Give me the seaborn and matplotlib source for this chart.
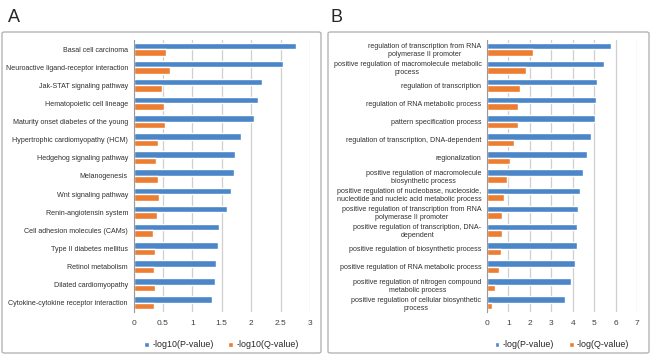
import numpy as np
import pandas as pd
import matplotlib
matplotlib.use("Agg")
import matplotlib.pyplot as plt
from matplotlib.patches import FancyBboxPatch
import seaborn as sns

# ---------------- data ----------------
kegg_terms = [
    "Basal cell carcinoma",
    "Neuroactive ligand-receptor interaction",
    "Jak-STAT signaling pathway",
    "Hematopoietic cell lineage",
    "Maturity onset diabetes of the young",
    "Hypertrophic cardiomyopathy (HCM)",
    "Hedgehog signaling pathway",
    "Melanogenesis",
    "Wnt signaling pathway",
    "Renin-angiotensin system",
    "Cell adhesion molecules (CAMs)",
    "Type II diabetes mellitus",
    "Retinol metabolism",
    "Dilated cardiomyopathy",
    "Cytokine-cytokine receptor interaction",
]
kegg_p = [2.77, 2.54, 2.18, 2.12, 2.05, 1.83, 1.73, 1.71, 1.66, 1.59, 1.45, 1.44, 1.40, 1.38, 1.33]
kegg_q = [0.56, 0.62, 0.48, 0.52, 0.54, 0.41, 0.39, 0.42, 0.43, 0.40, 0.33, 0.36, 0.35, 0.36, 0.35]

go_terms = [
    "regulation of transcription from RNA\npolymerase II promoter",
    "positive regulation of macromolecule metabolic\nprocess",
    "regulation of transcription",
    "regulation of RNA metabolic process",
    "pattern specification process",
    "regulation of transcription, DNA-dependent",
    "regionalization",
    "positive regulation of macromolecule\nbiosynthetic process",
    "positive regulation of nucleobase, nucleoside,\nnucleotide and nucleic acid metabolic process",
    "positive regulation of transcription from RNA\npolymerase II promoter",
    "positive regulation of transcription, DNA-\ndependent",
    "positive regulation of biosynthetic process",
    "positive regulation of RNA metabolic process",
    "positive regulation of nitrogen compound\nmetabolic process",
    "positive regulation of cellular biosynthetic\nprocess",
]
go_p = [5.78, 5.45, 5.14, 5.08, 5.03, 4.84, 4.67, 4.49, 4.33, 4.25, 4.21, 4.19, 4.10, 3.90, 3.66]
go_q = [2.16, 1.83, 1.54, 1.46, 1.43, 1.27, 1.07, 0.92, 0.78, 0.71, 0.68, 0.64, 0.54, 0.39, 0.25]

BLUE = "#4A86C8"
ORANGE = "#ED7D31"
GRID = "#cfcfcf"

sns.set_theme(style="white")
plt.rcParams["font.family"] = ["Liberation Sans", "DejaVu Sans"]


def long_df(terms, p, q, p_name, q_name):
    return pd.DataFrame({
        "term": terms * 2,
        "value": p + q,
        "series": [p_name] * len(terms) + [q_name] * len(terms),
    })


def draw_panel(ax, df, order, hue_order, xmax, xticks, xticklabels):
    sns.barplot(data=df, y="term", x="value", hue="series", order=order,
                hue_order=hue_order, palette=[BLUE, ORANGE], orient="h",
                width=0.72, saturation=1, ax=ax, legend=True)
    ax.set_xlim(0, xmax)
    ax.set_ylim(len(order) - 0.5, -0.5)
    ax.set_xticks(xticks)
    ax.set_xticklabels(xticklabels, fontsize=6.0, color="#404040")
    ax.tick_params(axis="x", length=0, pad=6)
    ax.tick_params(axis="y", which="major", length=0, pad=4, labelsize=5.1,
                   labelcolor="#303030")
    for lab in ax.get_yticklabels():
        lab.set_multialignment("center")
    # category boundary ticks like the spreadsheet axis
    ax.set_yticks(np.arange(-0.5, len(order), 1.0), minor=True)
    ax.tick_params(axis="y", which="minor", length=2.5, color="#9a9a9a", width=0.6)
    ax.xaxis.grid(True, color=GRID, linewidth=0.9)
    ax.set_axisbelow(True)
    for side in ["top", "right", "bottom"]:
        ax.spines[side].set_visible(False)
    ax.spines["left"].set_color("#9a9a9a")
    ax.spines["left"].set_linewidth(0.8)
    ax.set_xlabel("")
    ax.set_ylabel("")
    ax.legend(loc="upper center", bbox_to_anchor=(0.5, -0.075), ncol=2,
              frameon=False, fontsize=6.4, handlelength=0.55, handleheight=0.55,
              columnspacing=1.6, handletextpad=0.4)


fig = plt.figure(figsize=(6.5, 3.59), dpi=100)
W, H = 650, 359

# panel frames
for x0, x1 in [(2, 321), (328, 649)]:
    box = FancyBboxPatch((x0 / W, 1 - 353 / H), (x1 - x0) / W, (353 - 32) / H,
                         boxstyle="round,pad=0,rounding_size=0.004",
                         transform=fig.transFigure, fill=False,
                         edgecolor="#b5b5b5", linewidth=1.0)
    fig.patches.append(box)

ax_a = fig.add_axes([133.5 / W, 1 - 312 / H, (310 - 133.5) / W, (312 - 40) / H])
ax_b = fig.add_axes([487 / W, 1 - 312 / H, (637 - 487) / W, (312 - 40) / H])

draw_panel(ax_a, long_df(kegg_terms, kegg_p, kegg_q, "-log10(P-value)", "-log10(Q-value)"),
           kegg_terms, ["-log10(P-value)", "-log10(Q-value)"], 3,
           [0, 0.5, 1, 1.5, 2, 2.5, 3], ["0", "0.5", "1", "1.5", "2", "2.5", "3"])
draw_panel(ax_b, long_df(go_terms, go_p, go_q, "-log(P-value)", "-log(Q-value)"),
           go_terms, ["-log(P-value)", "-log(Q-value)"], 7,
           list(range(8)), [str(i) for i in range(8)])

fig.text(8 / W, 1 - 22 / H, "A", fontsize=13, ha="left", va="baseline")
fig.text(331 / W, 1 - 22 / H, "B", fontsize=13, ha="left", va="baseline")

fig.savefig("out.png", dpi=100)
